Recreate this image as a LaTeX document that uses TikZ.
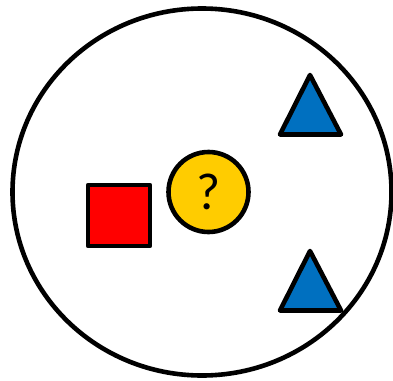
\documentclass[tikz,border=0pt]{standalone}
\usepackage{fontspec}
\setmainfont{Carlito}
\definecolor{tblue}{HTML}{0070C0}
\definecolor{tyellow}{HTML}{FFCC00}
\begin{document}
\begin{tikzpicture}[x=1pt,y=-1pt,
  outline/.style={draw=black,line width=4.6pt,line join=round},
  tri/.style={outline,fill=tblue}]
\useasboundingbox (0,0) rectangle (393,380);
\draw[outline] (202,192) ellipse [x radius=189.5, y radius=183.5];
\node[outline,fill=red,minimum width=62pt,minimum height=61pt,inner sep=0pt,anchor=center] (sq) at (119,215.5) {};
\node[outline,circle,fill=tyellow,minimum size=80pt,inner sep=0pt,font=\fontsize{52}{52}\selectfont] (q) at (208.5,192) {?};
\coordinate (t1a) at (310,75);
\coordinate (t1b) at (280,134.5);
\coordinate (t1c) at (341,134.5);
\draw[tri] (t1a) -- (t1b) -- (t1c) -- cycle;
\coordinate (t2a) at (310,251);
\coordinate (t2b) at (280,310.5);
\coordinate (t2c) at (341,310.5);
\draw[tri] (t2a) -- (t2b) -- (t2c) -- cycle;
\end{tikzpicture}
\end{document}
